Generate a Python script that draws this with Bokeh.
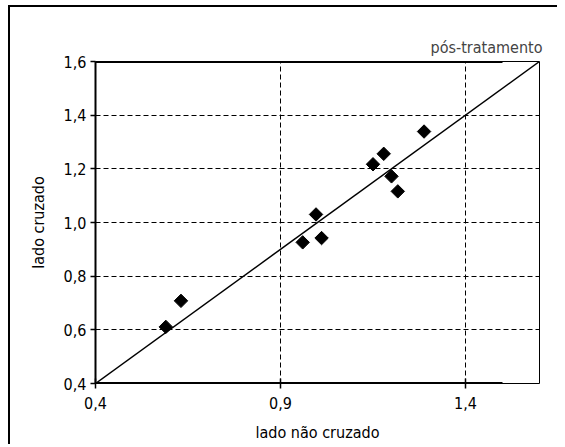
from bokeh.plotting import figure
from bokeh.embed import file_html
from bokeh.resources import INLINE
from bokeh.models import FixedTicker, ColumnDataSource

# data
lado_nao_cruzado = [0.590, 0.631, 0.960, 0.996, 1.011, 1.150, 1.179, 1.200, 1.217, 1.288]
lado_cruzado     = [0.611, 0.708, 0.926, 1.030, 0.942, 1.217, 1.256, 1.172, 1.116, 1.339]
diag = [0.4, 1.6]
x_ticks = [0.4, 0.9, 1.4]
x_tick_labels = ["0,4", "0,9", "1,4"]
y_ticks = [0.4, 0.6, 0.8, 1.0, 1.2, 1.4, 1.6]
y_tick_labels = ["0,4", "0,6", "0,8", "1,0", "1,2", "1,4", "1,6"]
x_range = (0.4, 1.6)
y_range = (0.4, 1.6)
axis_heavy_end = 1.5
title = "pós-tratamento"
x_label = "lado não cruzado"
y_label = "lado cruzado"

FONT = "DejaVu Sans Condensed, Roboto"

p = figure(width=547, height=431, x_range=x_range, y_range=y_range,
           output_backend="svg", toolbar_location=None,
           frame_width=444, frame_height=322,
           min_border_left=85, min_border_top=54, min_border_right=18, min_border_bottom=55)
p.styles = {"border-left": "2px solid black", "border-top": "2px solid black",
            "margin-left": "8px", "margin-top": "5px"}

p.title.text = title
p.title.align = "right"
p.title.text_font = FONT
p.title.text_font_size = "16px"
p.title.text_font_style = "normal"
p.title.standoff = 10
p.title.offset = -3

p.outline_line_color = "black"
p.outline_line_width = 1

# grid
p.xgrid.ticker = FixedTicker(ticks=x_ticks)
p.ygrid.ticker = FixedTicker(ticks=y_ticks)
for g in (p.xgrid, p.ygrid):
    g.grid_line_color = "black"
    g.grid_line_dash = "5 3"
    g.grid_line_width = 1

# axes
p.xaxis.ticker = FixedTicker(ticks=x_ticks)
p.yaxis.ticker = FixedTicker(ticks=y_ticks)
p.xaxis.major_label_overrides = dict(zip(x_ticks, x_tick_labels))
p.yaxis.major_label_overrides = dict(zip(y_ticks, y_tick_labels))
for ax in (p.xaxis, p.yaxis):
    ax.axis_line_color = "black"
    ax.axis_line_width = 2
    ax.major_tick_line_color = "black"
    ax.major_tick_line_width = 1.5
    ax.minor_tick_line_color = None
    ax.major_label_text_font = FONT
    ax.major_label_text_font_size = "16px"
    ax.major_label_text_color = "black"
    ax.axis_label_text_font = FONT
    ax.axis_label_text_font_size = "16px"
    ax.axis_label_text_font_style = "normal"
    ax.axis_label_text_color = "black"
p.xaxis.axis_line_color = None
p.xaxis.major_tick_in = 5
p.xaxis.major_tick_out = 5
p.xaxis.major_label_standoff = 8
p.xaxis.axis_label_standoff = 11
p.yaxis.major_tick_in = 0
p.yaxis.major_tick_out = 5
p.yaxis.major_label_standoff = 4
p.yaxis.axis_label_standoff = 13
p.xaxis.axis_label = x_label
p.yaxis.axis_label = y_label

# heavy parts of bottom / top frame lines
p.segment(x0=[x_range[0], x_range[0]], x1=[axis_heavy_end, axis_heavy_end],
          y0=[y_range[0], y_range[1]], y1=[y_range[0], y_range[1]],
          line_color="black", line_width=3)

# identity line
p.line(diag, diag, line_color="black", line_width=1.5)

# points
src = ColumnDataSource(dict(x=lado_nao_cruzado, y=lado_cruzado))
p.scatter("x", "y", source=src, marker="square", angle=0.785398, size=9.5,
          fill_color="black", line_color="black")

open("out.html", "w").write(file_html(p, INLINE))
